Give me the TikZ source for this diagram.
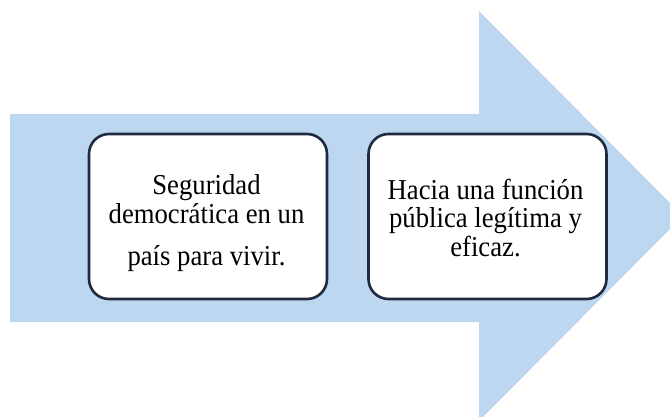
\documentclass[tikz,border=0pt]{standalone}
\usepackage{fontspec}
\setmainfont{Liberation Serif}
\definecolor{arrowblue}{HTML}{BDD7F1}
\definecolor{boxline}{HTML}{1E2B3E}
\newcommand{\boxtext}[1]{\scalebox{1}[1.08]{\begin{tabular}{@{}c@{}}#1\end{tabular}}}
\begin{document}
\begin{tikzpicture}[x=1pt,y=-1pt,
  textbox/.style={draw=boxline,line width=2.6pt,fill=white,rounded corners=20pt,
    minimum width=238pt,minimum height=165pt,inner sep=0pt},
  boxlabel/.style={inner sep=0pt,font=\fontsize{26.7}{25.5}\selectfont}]
\useasboundingbox (0,0) rectangle (670,417);
\begin{scope}
\clip (0,0) rectangle (670,417);
\fill[arrowblue] (10,114) -- (479,114) -- (479,11) -- (683,216) -- (479,421) -- (479,322) -- (10,322) -- cycle;
\end{scope}
\node[textbox] (b1) at (208,216.5) {};
\node[textbox] (b2) at (487.5,216.5) {};
\node[boxlabel,anchor=base] (t1) at (206.5,231) {\boxtext{Seguridad\\democrática en un\\[13pt]país para vivir.}};
\node[boxlabel,anchor=base] (t2) at (485.5,228.5) {\boxtext{Hacia una función\\pública legítima y\\eficaz.}};
\end{tikzpicture}
\end{document}
